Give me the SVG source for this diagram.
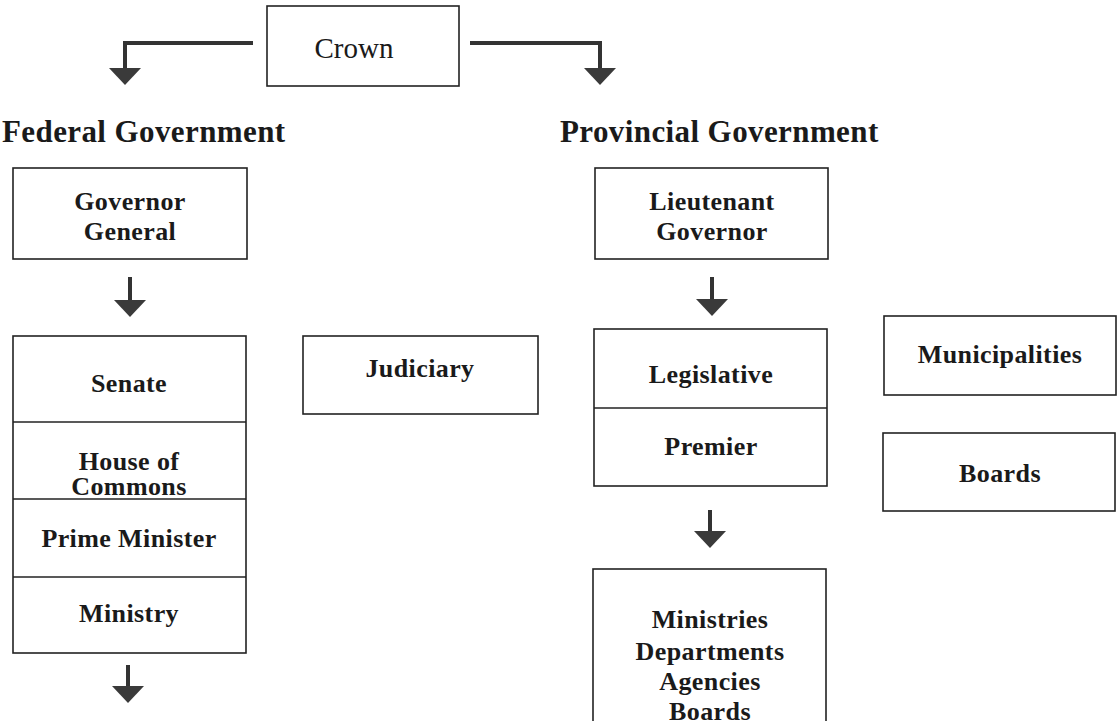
<svg xmlns="http://www.w3.org/2000/svg" width="1120" height="721" viewBox="0 0 1120 721">
<style>
  .box{fill:#fff;stroke:#222;stroke-width:1.6}
  .div{stroke:#222;stroke-width:1.6}
  .t{font-family:"Liberation Serif","Times New Roman",serif;font-weight:bold;font-size:26px;letter-spacing:0.4px;fill:#1a1a1a;text-anchor:middle}
  .h{font-family:"Liberation Serif","Times New Roman",serif;font-weight:bold;font-size:31px;letter-spacing:0.4px;fill:#1a1a1a}
  .crown{font-family:"Liberation Serif","Times New Roman",serif;font-size:29px;fill:#1a1a1a;text-anchor:middle}
  .con{fill:none;stroke:#333;stroke-width:4}
</style>
<defs>
  <marker id="ah" markerUnits="userSpaceOnUse" viewBox="0 -16 18 32" refX="0" refY="0" markerWidth="18" markerHeight="32" orient="auto">
    <path d="M0,-16 L17,0 L0,16 Z" fill="#3a3a3a"/>
  </marker>
</defs>
<rect width="1120" height="721" fill="#fff"/>

<g id="connectors">
  <path class="con" d="M253,43 H125 V68" marker-end="url(#ah)"/>
  <path class="con" d="M470,43 H600 V68" marker-end="url(#ah)"/>
  <path class="con" d="M130,277 V300" marker-end="url(#ah)"/>
  <path class="con" d="M128,665 V686" marker-end="url(#ah)"/>
  <path class="con" d="M712,277 V299" marker-end="url(#ah)"/>
  <path class="con" d="M710,510 V531" marker-end="url(#ah)"/>
</g>

<g id="crown">
  <rect class="box" x="267" y="6" width="192" height="80"/>
  <text class="crown" x="354" y="58">Crown</text>
</g>

<g id="federal-heading">
  <text class="h" x="2" y="142">Federal Government</text>
</g>
<g id="provincial-heading">
  <text class="h" x="560" y="142">Provincial Government</text>
</g>

<g id="governor-general">
  <rect class="box" x="13" y="168" width="234" height="91"/>
  <text class="t" x="130" y="210">Governor</text>
  <text class="t" x="130" y="240">General</text>
</g>

<g id="federal-stack">
  <rect class="box" x="13" y="336" width="233" height="317"/>
  <line class="div" x1="13" y1="422" x2="246" y2="422"/>
  <line class="div" x1="13" y1="499" x2="246" y2="499"/>
  <line class="div" x1="13" y1="577" x2="246" y2="577"/>
  <text class="t" x="129" y="392">Senate</text>
  <text class="t" x="129" y="470">House of</text>
  <text class="t" x="129" y="495">Commons</text>
  <text class="t" x="129" y="547">Prime Minister</text>
  <text class="t" x="129" y="622">Ministry</text>
</g>

<g id="judiciary">
  <rect class="box" x="303" y="336" width="235" height="78"/>
  <text class="t" x="420" y="377">Judiciary</text>
</g>

<g id="lieutenant-governor">
  <rect class="box" x="595" y="168" width="233" height="91"/>
  <text class="t" x="712" y="210">Lieutenant</text>
  <text class="t" x="712" y="240">Governor</text>
</g>

<g id="provincial-stack">
  <rect class="box" x="594" y="329" width="233" height="157"/>
  <line class="div" x1="594" y1="408" x2="827" y2="408"/>
  <text class="t" x="711" y="383">Legislative</text>
  <text class="t" x="711" y="455">Premier</text>
</g>

<g id="ministries">
  <rect class="box" x="593" y="569" width="233" height="170"/>
  <text class="t" x="710" y="628">Ministries</text>
  <text class="t" x="710" y="660">Departments</text>
  <text class="t" x="710" y="690">Agencies</text>
  <text class="t" x="710" y="720">Boards</text>
</g>

<g id="municipalities">
  <rect class="box" x="884" y="316" width="232" height="79"/>
  <text class="t" x="1000" y="363">Municipalities</text>
</g>

<g id="boards">
  <rect class="box" x="883" y="433" width="232" height="78"/>
  <text class="t" x="1000" y="482">Boards</text>
</g>
</svg>
